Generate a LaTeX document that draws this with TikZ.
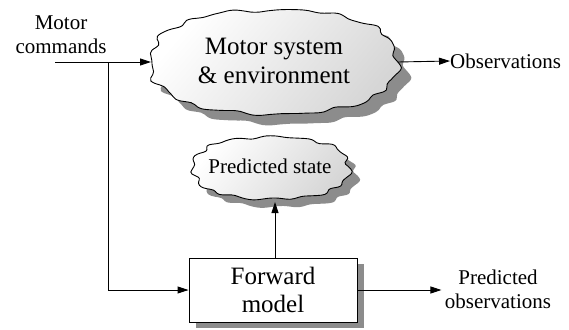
\documentclass[tikz,border=0pt]{standalone}
\usepackage{fontspec}
\setmainfont{Liberation Serif}
\usetikzlibrary{arrows.meta,shadows}
\begin{document}
\begin{tikzpicture}[x=1pt,y=-1pt,
  arr/.style={line width=0.9pt,-{Triangle[length=11pt,width=7pt]}},
  lbl/.style={font=\fontsize{21}{24}\selectfont,align=center,inner sep=0pt},
  big/.style={font=\fontsize{25}{29}\selectfont,align=center,inner sep=0pt},
  cloudfill/.style={draw=black,line width=0.9pt,top color=white,bottom color=gray!32,shading angle=50},
  shadowfill/.style={fill=gray!90}]
\useasboundingbox (0,0) rectangle (569,329);
\def\bigr{(1+0.022*sin(16*\x)+0.012*sin(9*\x+30)+0.008*sin(27*\x+10))}
\def\smr{(1+0.03*sin(15*\x)+0.015*sin(8*\x+20)+0.008*sin(23*\x+50))}
% big cloud shadow and body
\fill[shadowfill] plot[smooth cycle,samples=120,domain=1:358] ({284+123*\bigr*cos(\x)/abs(cos(\x))*abs(cos(\x))^0.85},{72+52*\bigr*sin(\x)/abs(sin(\x))*abs(sin(\x))^0.85});
\draw[cloudfill] plot[smooth cycle,samples=120,domain=1:358] ({274+123*\bigr*cos(\x)/abs(cos(\x))*abs(cos(\x))^0.85},{62+52*\bigr*sin(\x)/abs(sin(\x))*abs(sin(\x))^0.85});
\node[big] (ms) at (274,61) {Motor system\\\& environment};
% small cloud
\fill[shadowfill] plot[smooth cycle,samples=120,domain=1:358] ({279+78*\smr*cos(\x)/abs(cos(\x))*abs(cos(\x))^0.85},{176+31*\smr*sin(\x)/abs(sin(\x))*abs(sin(\x))^0.85});
\draw[cloudfill] plot[smooth cycle,samples=120,domain=1:358] ({271+78*\smr*cos(\x)/abs(cos(\x))*abs(cos(\x))^0.85},{168+31*\smr*sin(\x)/abs(sin(\x))*abs(sin(\x))^0.85});
\node[lbl] (ps) at (270,166) {Predicted state};
% forward model box
\node[draw,line width=0.9pt,fill=white,minimum width=168pt,minimum height=64pt,inner sep=0pt,
  font=\fontsize{25}{28}\selectfont,align=center,
  drop shadow={shadow xshift=7pt,shadow yshift=-6pt,fill=gray!90,opacity=1}] (fm) at (273,290) {Forward\\model};
% labels
\node[lbl] (mc) at (61,35) {Motor\\commands};
\node[lbl,anchor=west] (obs) at (450,61) {Observations};
\node[lbl] (po) at (498,289) {Predicted\\observations};
% connectors
\coordinate (mcs) at (55,62);
\coordinate (msl) at (151,62);
\coordinate (j) at (108,62);
\coordinate (msr) at (398,62);
\coordinate (psb) at (275,202);
\draw[arr] (mcs) -- (msl);
\draw[arr] (j) |- (fm.west);
\draw[arr] (msr) -- (obs.west);
\draw[arr] (fm.north -| psb) -- (psb);
\draw[arr] (fm.east) -- ++(84,0) coordinate (poa);
\end{tikzpicture}
\end{document}
